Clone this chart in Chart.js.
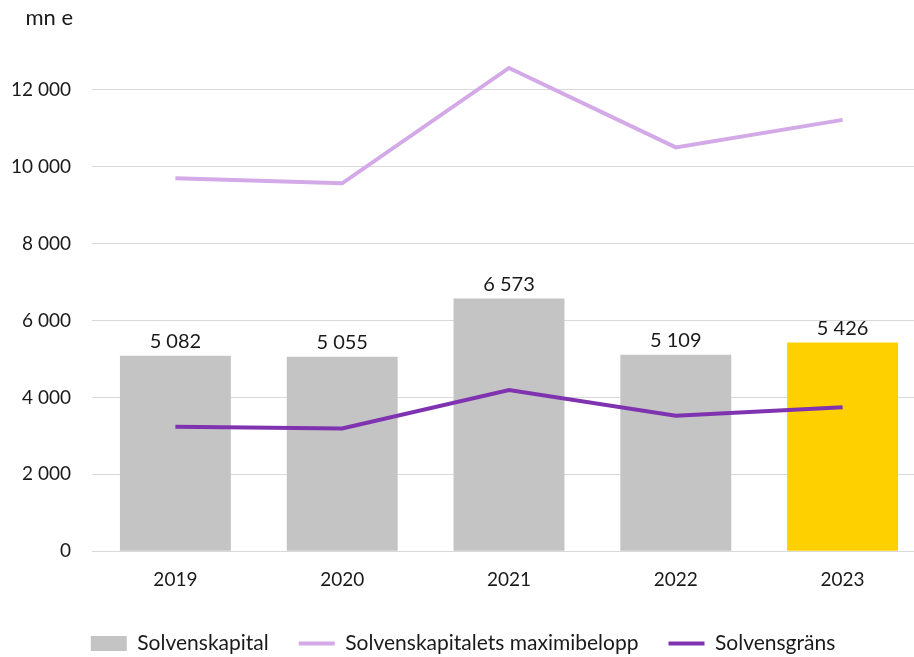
<!DOCTYPE html>
<html>
<head>
<meta charset="utf-8">
<script src="https://cdn.jsdelivr.net/npm/chart.js@4/dist/chart.umd.min.js"></script>
<style>
  html, body { margin: 0; padding: 0; background: #fff; overflow: hidden; }
  #wrap { width: 926px; height: 657px; }
</style>
</head>
<body>
<div id="wrap"><canvas id="chart"></canvas></div>
<script>
// Solvenskapital och solvensgräns, mn e

const years = ['2019', '2020', '2021', '2022', '2023'];
const solvenskapital = [5082, 5055, 6573, 5109, 5426];
const maximibelopp = [9700, 9570, 12570, 10505, 11220];
const solvensgrans = [3235, 3190, 4195, 3522, 3745];
const yTicks = [0, 2000, 4000, 6000, 8000, 10000, 12000, 14000];
const yUnit = 'mn e';

const FONT = 'Lato, "Open Sans", sans-serif';

function fmt(v) {
  return String(v).replace(/\B(?=(\d{3})+(?!\d))/g, ' ');
}

// etiketter ovanför staplarna + enhet överst på y-axeln
const extraText = {
  id: 'extraText',
  afterDatasetsDraw(chart) {
    const ctx = chart.ctx;
    const meta = chart.getDatasetMeta(0);
    const y = chart.scales.y;
    ctx.save();
    ctx.font = '20px ' + FONT;
    ctx.fillStyle = '#1a1a1a';
    ctx.textAlign = 'center';
    ctx.textBaseline = 'bottom';
    meta.data.forEach((bar, i) => {
      ctx.fillText(fmt(solvenskapital[i]), bar.x, bar.y - 4);
    });
    ctx.font = '22px ' + FONT;
    ctx.textAlign = 'right';
    ctx.textBaseline = 'middle';
    ctx.fillText(yUnit, y.right - 19, y.getPixelForValue(14000) + 5);
    ctx.restore();
  }
};

new Chart(document.getElementById('chart'), {
  data: {
    labels: years,
    datasets: [
      {
        type: 'bar',
        label: 'Solvenskapital',
        data: solvenskapital,
        backgroundColor: ['#c4c4c4', '#c4c4c4', '#c4c4c4', '#c4c4c4', '#ffd000'],
        barPercentage: 0.665,
        categoryPercentage: 1,
        pointStyle: 'rect',
        order: 3
      },
      {
        type: 'line',
        label: 'Solvenskapitalets maximibelopp',
        data: maximibelopp,
        borderColor: '#d3a9e7',
        backgroundColor: '#d3a9e7',
        borderWidth: 4,
        pointRadius: 0,
        pointStyle: 'line',
        tension: 0,
        order: 1
      },
      {
        type: 'line',
        label: 'Solvensgräns',
        data: solvensgrans,
        borderColor: '#7f33b0',
        backgroundColor: '#7f33b0',
        borderWidth: 4,
        pointRadius: 0,
        pointStyle: 'line',
        tension: 0,
        order: 2
      }
    ]
  },
  options: {
    responsive: true,
    maintainAspectRatio: false,
    animation: false,
    layout: { padding: { top: 13, right: 0, bottom: -7, left: 0 } },
    plugins: {
      tooltip: { enabled: false },
      legend: {
        position: 'bottom',
        labels: {
          usePointStyle: true,
          pointStyleWidth: 36,
          boxHeight: 15,
          padding: 30,
          color: '#1a1a1a',
          sort: (a, b) => a.datasetIndex - b.datasetIndex,
          font: { family: FONT, size: 21 }
        }
      }
    },
    scales: {
      x: {
        grid: { display: false },
        border: { display: false },
        afterFit(scale) { scale.height += 3; },
        ticks: { color: '#1a1a1a', padding: 9, font: { family: FONT, size: 19 } }
      },
      y: {
        min: 0,
        max: 14000,
        afterBuildTicks(scale) {
          scale.ticks = yTicks.map(v => ({ value: v }));
        },
        afterFit(scale) {
          scale.width = 92;
          scale.paddingTop = 0;
          scale.paddingBottom = 0;
        },
        border: { display: false },
        grid: {
          color: c => c.tick && c.tick.value === 14000 ? 'rgba(0,0,0,0)' : '#d9d9d9',
          lineWidth: 1,
          drawTicks: false
        },
        ticks: {
          color: '#1a1a1a',
          padding: 21,
          font: { family: FONT, size: 19 },
          callback: v => v === 14000 ? '' : fmt(v)
        }
      }
    }
  },
  plugins: [extraText]
});
</script>
</body>
</html>
